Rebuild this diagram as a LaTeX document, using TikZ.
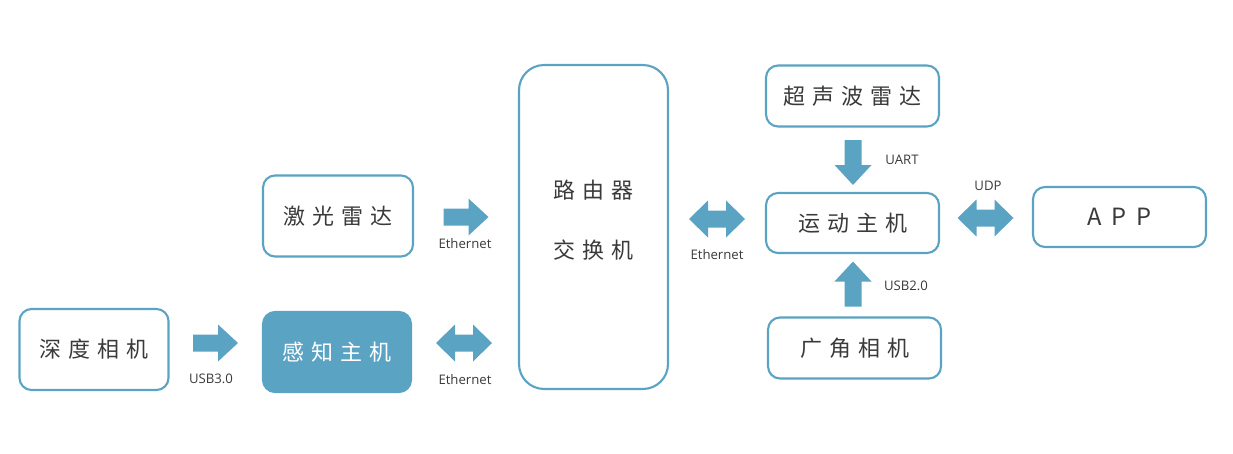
\documentclass[tikz,border=0pt]{standalone}
\usepackage{fontspec}
\setmainfont{Open Sans}
\newfontfamily\cjk{Noto Sans CJK SC}
\definecolor{blu}{HTML}{5BA3C3}
\definecolor{txt}{HTML}{3A3A3A}
\tikzset{
  cjkfont/.style={font={\cjk\fontsize{12.5}{15}\selectfont\spaceskip=0.32em\relax}},
  box/.style={draw=blu, line width=1.2pt, rounded corners=0.24cm, fill=white,
    text=txt, cjkfont, inner sep=0pt},
  fbox/.style={box, fill=blu, text=white},
  lbl/.style={text=txt, font={\fontsize{7.5}{9}\selectfont}, inner sep=0pt},
  arr/.style={fill=blu},
  rarrow/.pic={\fill[arr] (-22.5,-8.5) -- (2.5,-8.5) -- (2.5,-18.5) -- (22.5,0) -- (2.5,18.5) -- (2.5,8.5) -- (-22.5,8.5) -- cycle;},
  darrow/.pic={\fill[arr] (-28,0) -- (-9,-18.5) -- (-9,-8.5) -- (9,-8.5) -- (9,-18.5) -- (28,0) -- (9,18.5) -- (9,8.5) -- (-9,8.5) -- (-9,18.5) -- cycle;}
}
\begin{document}
\begin{tikzpicture}[x=0.02cm, y=-0.02cm]
\useasboundingbox (0,0) rectangle (1233,453);
% boxes
\node[box, minimum width=2.98cm, minimum height=1.62cm] (depth) at (94,349.5) {深 度 相 机};
\node[fbox, minimum width=2.96cm, minimum height=1.6cm] (perc) at (337,352) {感 知 主 机};
\node[box, minimum width=3.0cm, minimum height=1.62cm] (lidar) at (338,216) {激 光 雷 达};
\node[box, rounded corners=0.5cm, minimum width=2.98cm, minimum height=6.48cm] (router) at (593.5,227) {};
\node[text=txt, cjkfont, inner sep=0pt, align=center] (routertext) at (593.5,220) {路 由 器\\[19pt]交 换 机};
\node[box, minimum width=3.46cm, minimum height=1.22cm] (sonar) at (852.5,96) {超 声 波 雷 达};
\node[box, minimum width=3.46cm, minimum height=1.2cm] (motion) at (852.5,223) {运 动 主 机};
\node[box, minimum width=3.46cm, minimum height=1.22cm] (wide) at (854.5,348) {广 角 相 机};
\node[box, minimum width=3.46cm, minimum height=1.2cm, font={\cjk\fontsize{13.5}{15}\selectfont\spaceskip=0.4em\relax}] (app) at (1119.5,217) {A P P};
% block arrows
\path (215.5,343) pic {rarrow};
\path (466,217) pic {rarrow};
\path (464,343) pic {darrow};
\path (717,219) pic {darrow};
\path (853,162.5) pic[rotate=-90] {rarrow};
\path (853,284) pic[rotate=90] {rarrow};
\path (985.5,218) pic {darrow};
% labels
\node[lbl] (l1) at (211,379) {USB3.0};
\node[lbl] (l2) at (465,244) {Ethernet};
\node[lbl] (l3) at (465,380) {Ethernet};
\node[lbl] (l4) at (717,255) {Ethernet};
\node[lbl] (l5) at (902,160) {UART};
\node[lbl] (l6) at (906,286) {USB2.0};
\node[lbl] (l7) at (988,186) {UDP};
\end{tikzpicture}
\end{document}
